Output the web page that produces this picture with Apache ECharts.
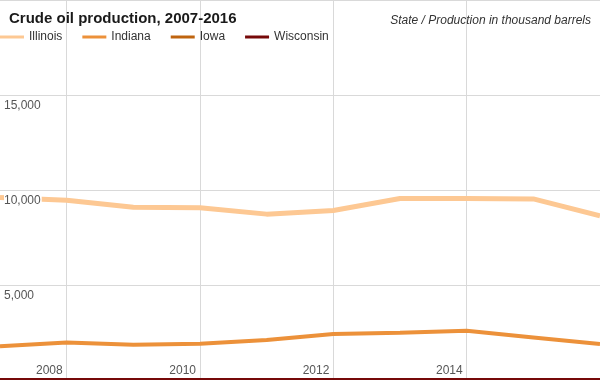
<!DOCTYPE html>
<html>
<head>
<meta charset="utf-8">
<script src="https://cdn.jsdelivr.net/npm/echarts@6/dist/echarts.min.js"></script>
<style>html,body{margin:0;padding:0;background:#fff}#c{width:600px;height:380px}</style>
</head>
<body>
<div id="c"></div>
<script>
const years = ['2007','2008','2009','2010','2011','2012','2013','2014','2015','2016'];
const illinois = [9600, 9460, 9090, 9070, 8730, 8920, 9550, 9550, 9530, 8640];
const indiana = [1770, 1980, 1860, 1910, 2100, 2420, 2490, 2595, 2240, 1890];
const iowa = [0, 0, 0, 0, 0, 0, 0, 0, 0, 0];
const wisconsin = [0, 0, 0, 0, 0, 0, 0, 0, 0, 0];
const seriesNames = ['Illinois', 'Indiana', 'Iowa', 'Wisconsin'];
const colors = ['#fdc893', '#ec913a', '#bf640f', '#760909'];
const titleText = 'Crude oil production, 2007-2016';
const subtitleText = 'State / Production in thousand barrels';

const font = 'Liberation Sans, Arial, Helvetica, sans-serif';
const chart = echarts.init(document.getElementById('c'), null, {renderer: 'canvas'});
const dataSets = [illinois, indiana, iowa, wisconsin];
chart.setOption({
  animation: false,
  color: colors,
  title: [
    {text: titleText, left: 9, top: 11, padding: 0,
     textStyle: {fontFamily: font, fontSize: 15, fontWeight: 'bold', color: '#1a1a1a'}},
    {text: subtitleText, right: 9, top: 15, padding: 0,
     textStyle: {fontFamily: font, fontSize: 12, fontWeight: 'normal', fontStyle: 'italic', color: '#333'}}
  ],
  legend: {
    left: 0, top: 31, padding: 0, itemGap: 20, itemWidth: 24, itemHeight: 3,
    icon: 'rect',
    textStyle: {fontFamily: font, fontSize: 12, color: '#333'},
    data: seriesNames
  },
  grid: {left: 0, right: 0, top: 0, bottom: 0, containLabel: false},
  xAxis: {
    type: 'category', data: years, boundaryGap: false,
    axisLine: {show: false}, axisTick: {show: false},
    axisLabel: {
      inside: true, margin: 3, align: 'right', verticalAlign: 'bottom',
      padding: [0, 4, 0, 0], color: '#555', fontFamily: font, fontSize: 12,
      interval: (i) => i % 2 === 1 && i < years.length - 1
    },
    splitLine: {show: true, interval: (i) => i % 2 === 1, lineStyle: {color: '#d9d9d9', width: 1}}
  },
  yAxis: {
    type: 'value', min: 0, max: 20000, interval: 5000, z: 10,
    axisLine: {show: false}, axisTick: {show: false},
    axisLabel: {
      inside: true, margin: 4, verticalAlign: 'top', padding: [4, 0, 0, 0],
      color: '#555', fontFamily: font, fontSize: 12,
      showMinLabel: false, showMaxLabel: false,
      formatter: (v) => '{a|' + v.toLocaleString('en-US') + '}',
      rich: {a: {backgroundColor: '#fff', color: '#555', fontFamily: font, fontSize: 12, padding: [1, 1, 1, 0]}}
    },
    splitLine: {show: true, showMinLine: false, lineStyle: {color: '#d9d9d9', width: 1}}
  },
  series: seriesNames.map((n, i) => ({
    name: n, type: 'line', data: dataSets[i], symbol: 'none',
    lineStyle: {width: i === 0 ? 5 : 4}, z: 2 + i
  }))
});
</script>
</body>
</html>
